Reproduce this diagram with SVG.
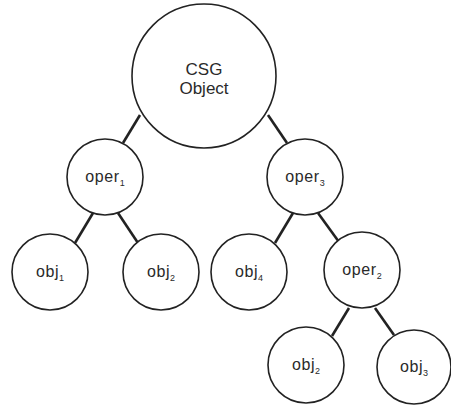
<svg xmlns="http://www.w3.org/2000/svg" width="451" height="407" viewBox="0 0 451 407">
<style>
.n{fill:#fff;stroke:#222;stroke-width:1.6}
.t{font-family:"Liberation Sans",Arial,sans-serif;font-size:16px;letter-spacing:0.6px;fill:#2a2a2a;text-anchor:middle}
.s{font-size:9px;letter-spacing:0}
.c{stroke:#222;stroke-width:2.6;fill:none}
</style>
<rect width="451" height="407" fill="#fff"/>
<g id="connectors">
<line class="c" x1="140" y1="115" x2="123" y2="143"/>
<line class="c" x1="268" y1="115" x2="287" y2="143"/>
<line class="c" x1="93" y1="213" x2="75" y2="243"/>
<line class="c" x1="118" y1="213" x2="138" y2="243"/>
<line class="c" x1="293" y1="213" x2="275" y2="243"/>
<line class="c" x1="318" y1="213" x2="339" y2="242"/>
<line class="c" x1="349" y1="308" x2="332" y2="336"/>
<line class="c" x1="375" y1="308" x2="394" y2="335"/>
</g>
<g id="csg"><circle class="n" cx="204" cy="76" r="72"/><text class="t" x="204" y="75" style="font-size:17px;letter-spacing:0">CSG</text><text class="t" x="204" y="94" style="font-size:17px;letter-spacing:0">Object</text></g>
<g id="oper1"><circle class="n" cx="105" cy="177" r="38"/><text class="t" x="105" y="182">oper<tspan class="s" dy="4">1</tspan></text></g>
<g id="oper3"><circle class="n" cx="305" cy="177" r="38"/><text class="t" x="305" y="182">oper<tspan class="s" dy="4">3</tspan></text></g>
<g id="obj1"><circle class="n" cx="50" cy="272" r="38"/><text class="t" x="50" y="277">obj<tspan class="s" dy="4">1</tspan></text></g>
<g id="obj2a"><circle class="n" cx="161" cy="272" r="38"/><text class="t" x="161" y="277">obj<tspan class="s" dy="4">2</tspan></text></g>
<g id="obj4"><circle class="n" cx="249" cy="272" r="38"/><text class="t" x="249" y="277">obj<tspan class="s" dy="4">4</tspan></text></g>
<g id="oper2"><circle class="n" cx="362" cy="270" r="38"/><text class="t" x="362" y="275">oper<tspan class="s" dy="4">2</tspan></text></g>
<g id="obj2b"><circle class="n" cx="306" cy="365" r="38"/><text class="t" x="306" y="370">obj<tspan class="s" dy="4">2</tspan></text></g>
<g id="obj3"><circle class="n" cx="414" cy="367" r="37"/><text class="t" x="414" y="372">obj<tspan class="s" dy="4">3</tspan></text></g>
</svg>
